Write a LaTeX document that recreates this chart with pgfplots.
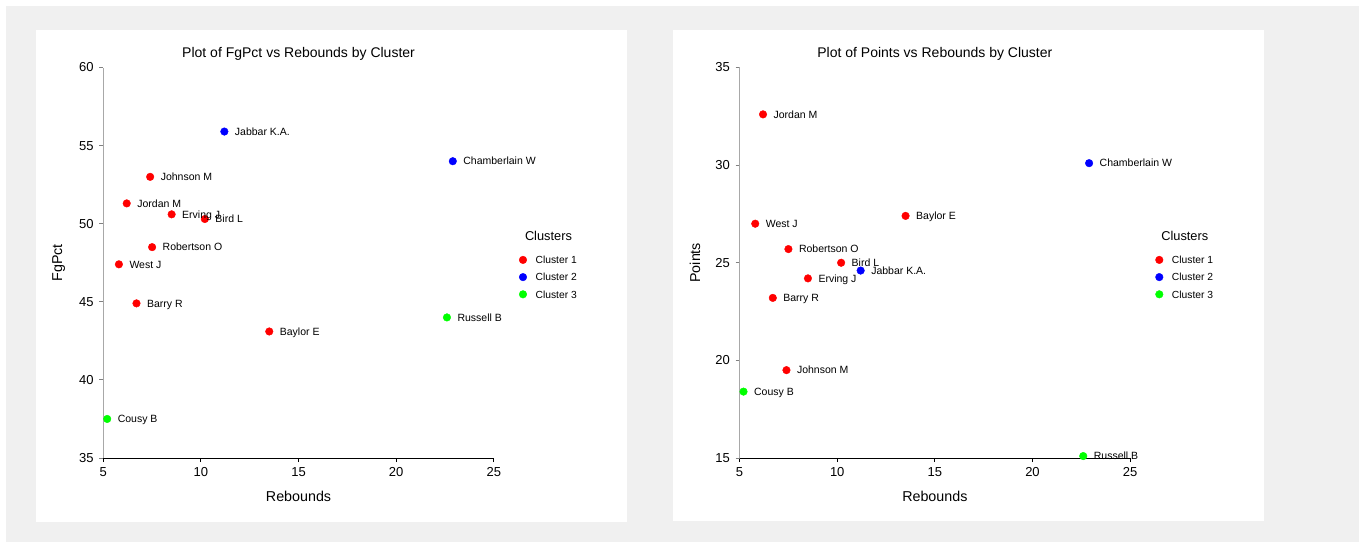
\documentclass[border=0pt]{standalone}
\usepackage{fontspec}
\setmainfont{Liberation Sans}
\usepackage{pgfplots}
\usepackage{pgfplotstable}
\pgfplotsset{compat=1.18}
\definecolor{bg}{HTML}{F0F0F0}
\definecolor{axgray}{HTML}{A8A8A8}
\definecolor{cred}{HTML}{FF0000}
\definecolor{cblue}{HTML}{0000FF}
\definecolor{cgreen}{HTML}{00FF00}

\pgfplotstableread[col sep=comma,row sep=\\]{
reb,fg,pts,name\\
13.5,43.1,27.4,Baylor E\\
6.7,44.9,23.2,Barry R\\
10.2,50.3,25.0,Bird L\\
8.5,50.6,24.2,Erving J\\
7.4,53.0,19.5,Johnson M\\
6.2,51.3,32.6,Jordan M\\
7.5,48.5,25.7,Robertson O\\
5.8,47.4,27.0,West J\\
}\clusterA
\pgfplotstableread[col sep=comma,row sep=\\]{
reb,fg,pts,name\\
22.9,54.0,30.1,Chamberlain W\\
11.2,55.9,24.6,Jabbar K.A.\\
}\clusterB
\pgfplotstableread[col sep=comma,row sep=\\]{
reb,fg,pts,name\\
22.6,44.0,15.1,Russell B\\
5.2,37.5,18.4,Cousy B\\
}\clusterC

\pgfplotsset{
  clusterplot/.style={
    scale only axis, width=390.5pt, height=390.5pt,
    xmin=5, xmax=25, xtick={5,10,...,25}, clip=false,
    axis x line*=bottom, axis y line*=left, axis line style={-},
    x axis line style={black, line width=1pt},
    y axis line style={axgray, line width=1.3pt},
    tick align=outside, major tick length=4pt,
    xtick style={black, line width=0.9pt},
    ytick style={gray, line width=0.9pt},
    /pgf/number format/assume math mode=true,
    ticklabel style={font=\fontsize{13}{15}\selectfont, inner sep=0pt, text=black},
    yticklabel style={xshift=-5.5pt},
    xticklabel style={yshift=-5pt},
    title style={font=\fontsize{14}{16}\selectfont, at={(0.5,1.019)}, anchor=center, yshift=0pt, inner sep=0pt},
    xlabel style={font=\fontsize{14.3}{17}\selectfont, at={(0.5,-0.0973)}, anchor=center, inner sep=0pt},
    ylabel style={font=\fontsize{14.3}{17}\selectfont, at={(-0.114,0.5)}, anchor=center, inner sep=0pt},
    legend style={draw=none, fill=none, at={(1.065,0.517)}, anchor=north west,
      inner sep=0pt, outer sep=0pt, row sep=9.6pt, column sep=8.8pt,
      nodes={inner sep=0pt, text depth=0pt, font=\fontsize{10.3}{12}\selectfont}},
    legend cell align=left,
    legend image code/.code={\draw[##1] plot coordinates {(0pt,0pt)};},
    nodes near coords={\pgfplotspointmeta}, point meta=explicit symbolic,
    every node near coord/.append style={anchor=west, inner sep=0pt, xshift=10.4pt,
      font=\fontsize{10.5}{12}\selectfont, text=black, text height=7.5pt, text depth=0pt},
  },
  pt/.style={only marks, mark=*, mark size=3.8pt, color=#1, mark options={draw=none, fill=#1}},
}

\begin{document}
\begin{tikzpicture}
\path[fill=white] (0pt,0pt) rectangle (1359pt,542pt);
\fill[bg] (6pt,0pt) rectangle (1359pt,536pt);
\fill[white] (36pt,20.5pt) rectangle (627pt,512pt);
\fill[white] (673pt,21.5pt) rectangle (1263.5pt,512pt);

\begin{axis}[clusterplot, at={(103.3pt,84pt)}, anchor=south west,
  ymin=35, ymax=60, ytick={35,40,...,60},
  title={Plot of FgPct vs Rebounds by Cluster},
  xlabel={Rebounds}, ylabel={FgPct}]
\addplot[pt=cred] table[x=reb, y=fg, meta=name] {\clusterA};
\addlegendentry{Cluster 1}
\addplot[pt=cblue] table[x=reb, y=fg, meta=name] {\clusterB};
\addlegendentry{Cluster 2}
\addplot[pt=cgreen] table[x=reb, y=fg, meta=name] {\clusterC};
\addlegendentry{Cluster 3}
\node[font=\fontsize{12.8}{15}\selectfont, inner sep=0pt] at (rel axis cs:1.14,0.569) {Clusters};
\end{axis}

\begin{axis}[clusterplot, at={(739.6pt,84pt)}, anchor=south west,
  ymin=15, ymax=35, ytick={15,20,...,35},
  title={Plot of Points vs Rebounds by Cluster},
  xlabel={Rebounds}, ylabel={Points}]
\addplot[pt=cred] table[x=reb, y=pts, meta=name] {\clusterA};
\addlegendentry{Cluster 1}
\addplot[pt=cblue] table[x=reb, y=pts, meta=name] {\clusterB};
\addlegendentry{Cluster 2}
\addplot[pt=cgreen] table[x=reb, y=pts, meta=name] {\clusterC};
\addlegendentry{Cluster 3}
\node[font=\fontsize{12.8}{15}\selectfont, inner sep=0pt] at (rel axis cs:1.14,0.569) {Clusters};
\end{axis}
\end{tikzpicture}
\end{document}
